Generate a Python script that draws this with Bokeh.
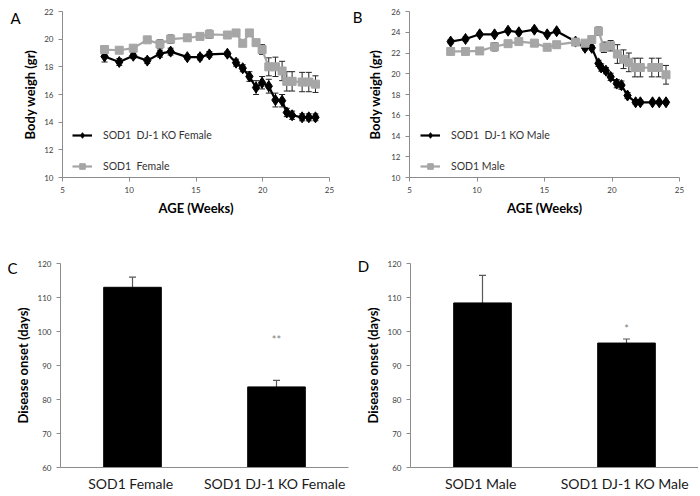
from bokeh.plotting import figure
from bokeh.layouts import column, row
from bokeh.models import (ColumnDataSource, Whisker, TeeHead, Legend, LegendItem,
                          Label, FixedTicker, Range1d, FactorRange)
from bokeh.core.properties import value
from bokeh.embed import file_html
from bokeh.resources import INLINE

# ---------------- data ----------------
# Panel A (female body weight, gr)
weeks_f = [8.15, 9.25, 10.3, 11.35, 12.3, 13.1, 14.35, 15.3, 16.0, 17.35, 18.0, 18.5,
           19.0, 19.5, 19.95, 20.45, 20.95, 21.45, 21.8, 22.2, 22.95, 23.45, 23.95]
ko_female = [18.75, 18.35, 18.8, 18.45, 18.95, 19.1, 18.7, 18.7, 18.9, 18.95, 18.3, 17.9,
             17.3, 16.5, 16.85, 16.6, 15.6, 15.55, 14.7, 14.5, 14.35, 14.35, 14.35]
ko_female_err = [0.4, 0.25, 0.2, 0.2, 0.25, 0.25, 0.15, 0.2, 0.2, 0.15, 0.25, 0.25,
                 0.35, 0.5, 0.45, 0.5, 0.5, 0.45, 0.3, 0.3, 0.25, 0.25, 0.25]
sod1_female = [19.25, 19.2, 19.35, 19.95, 19.65, 20.0, 20.1, 20.2, 20.35, 20.3, 20.45, 19.7,
               20.45, 19.75, 19.25, 18.0, 18.0, 17.7, 16.95, 16.95, 16.9, 16.9, 16.75]
sod1_female_err = [0.2, 0.2, 0.2, 0.15, 0.3, 0.3, 0.2, 0.2, 0.3, 0.2, 0.15, 0.15,
                   0.15, 0.2, 0.35, 0.65, 0.7, 0.7, 0.7, 0.7, 0.7, 0.7, 0.6]

# Panel B (male body weight, gr)
weeks_ko_m = [8.05, 9.15, 10.2, 11.3, 12.3, 13.1, 14.25, 15.2, 15.9, 17.3, 18.0, 18.5,
              19.0, 19.2, 19.55, 19.9, 20.35, 20.7, 21.15, 21.75, 22.1, 23.0, 23.5, 24.0]
ko_male = [23.1, 23.35, 23.8, 23.8, 24.15, 24.0, 24.25, 23.8, 24.1, 23.1, 22.5, 22.5,
           21.0, 20.6, 20.3, 19.7, 19.05, 18.9, 17.9, 17.25, 17.25, 17.25, 17.25, 17.25]
ko_male_err = [0.2, 0.2, 0.15, 0.15, 0.15, 0.15, 0.15, 0.15, 0.15, 0.2, 0.2, 0.2,
               0.3, 0.35, 0.3, 0.35, 0.4, 0.4, 0.3, 0.2, 0.2, 0.15, 0.15, 0.15]
weeks_sod1_m = [8.05, 9.15, 10.2, 11.3, 12.3, 13.1, 14.25, 15.2, 15.9, 17.3, 18.0, 18.5,
                19.0, 19.4, 19.9, 20.4, 20.85, 21.25, 21.7, 22.1, 22.95, 23.45, 24.0]
sod1_male = [22.15, 22.15, 22.2, 22.6, 22.9, 23.1, 22.95, 22.55, 22.8, 23.05, 22.95, 23.3,
             24.1, 22.55, 22.7, 21.9, 21.4, 21.1, 20.6, 20.6, 20.6, 20.6, 19.9]
sod1_male_err = [0.3, 0.3, 0.3, 0.4, 0.25, 0.2, 0.25, 0.3, 0.3, 0.2, 0.2, 0.3,
                 0.4, 0.5, 0.5, 0.9, 0.9, 0.9, 0.9, 0.9, 0.9, 0.9, 0.9]

# Panel C / D (disease onset, days)
groups_f = ["SOD1  Female", "SOD1  DJ-1 KO Female"]
onset_f = [113.0, 83.7]
onset_f_err = [3.0, 1.9]
sig_f = ["", "**"]

groups_m = ["SOD1  Male", "SOD1  DJ-1 KO Male"]
onset_m = [108.4, 96.6]
onset_m_err = [8.1, 1.2]
sig_m = ["", "*"]

FONT = "Lato"
BLACK = "#000000"
GREY = "#a6a6a6"
AXIS = "#8c8c8c"


def style_axes(p):
    for ax in p.axis:
        ax.axis_line_color = AXIS
        ax.major_tick_line_color = AXIS
        ax.major_tick_out = 4
        ax.major_tick_in = 0
        ax.minor_tick_line_color = None
        ax.major_label_text_font = FONT
        ax.major_label_text_font_size = "8px"
        ax.major_label_text_color = "#404040"
        ax.major_label_standoff = 5
        ax.axis_label_text_font = FONT
        ax.axis_label_text_font_style = "bold"
        ax.axis_label_text_font_size = "13px"
        ax.axis_label_text_color = "#000000"
    p.grid.visible = False
    p.outline_line_color = None


def add_letter(p, letter, x, y):
    # panel letter placed in the left side panel (not clipped by the frame)
    p.add_layout(Label(x=x, y=y, x_units="canvas", y_units="canvas", text=letter,
                       text_font=FONT, text_font_size="15px", text_color="#000000",
                       text_align="center", text_baseline="alphabetic"), "left")


def add_series(p, xs, ys, errs, color, marker, size):
    src = ColumnDataSource(dict(x=xs, y=ys,
                                lo=[v - e for v, e in zip(ys, errs)],
                                hi=[v + e for v, e in zip(ys, errs)]))
    ln = p.line("x", "y", source=src, line_color=color, line_width=2.2)
    sc = p.scatter("x", "y", source=src, marker=marker, size=size,
                   fill_color=color, line_color=color)
    p.add_layout(Whisker(source=src, base="x", upper="hi", lower="lo",
                         line_color="#222222", line_width=1,
                         upper_head=TeeHead(size=6, line_color="#222222", line_width=1),
                         lower_head=TeeHead(size=6, line_color="#222222", line_width=1)))
    return [ln, sc]


def line_panel(letter, y0, y1, ystep, ser_ko, ser_sod, labels, size, borders,
               lab_standoff, legend_loc, letter_xy):
    left, right, top, bottom = borders
    p = figure(width=size[0], height=size[1], x_range=Range1d(5, 25),
               y_range=Range1d(y0, y1),
               output_backend="svg", toolbar_location=None,
               min_border_left=left, min_border_right=right,
               min_border_top=top, min_border_bottom=bottom)
    p.xaxis.ticker = FixedTicker(ticks=list(range(5, 26, 5)))
    p.yaxis.ticker = FixedTicker(ticks=list(range(y0, y1 + 1, ystep)))
    p.xaxis.axis_label = "AGE (Weeks)"
    p.yaxis.axis_label = "Body weigh (gr)"
    style_axes(p)
    p.yaxis.axis_label_standoff = lab_standoff
    p.xaxis.axis_label_standoff = 4
    r_ko = add_series(p, *ser_ko, BLACK, "diamond", 11)
    r_sod = add_series(p, *ser_sod, GREY, "square", 8)
    leg = Legend(items=[LegendItem(label=labels[0], renderers=r_ko),
                        LegendItem(label=labels[1], renderers=r_sod)],
                 location=legend_loc, orientation="vertical",
                 border_line_color=None, background_fill_alpha=0,
                 padding=0, margin=0, spacing=17, glyph_width=20, glyph_height=14,
                 label_height=14, label_standoff=11, label_text_font=FONT,
                 label_text_font_size="10.5px", label_text_color="#333333")
    p.add_layout(leg)
    add_letter(p, letter, *letter_xy)
    return p


def bar_panel(letter, cats, vals, errs, sigs, sig_offset, size, borders, letter_xy):
    left, right, top, bottom = borders
    p = figure(width=size[0], height=size[1], x_range=FactorRange(factors=cats),
               y_range=Range1d(60, 120), output_backend="svg", toolbar_location=None,
               min_border_left=left, min_border_right=right,
               min_border_top=top, min_border_bottom=bottom)
    src = ColumnDataSource(dict(cat=cats, val=vals,
                                hi=[v + e for v, e in zip(vals, errs)],
                                sig=sigs,
                                sig_y=[v + e + sig_offset for v, e in zip(vals, errs)]))
    p.vbar(x="cat", top="val", bottom=60, width=0.4, source=src,
           fill_color=BLACK, line_color=BLACK)
    p.add_layout(Whisker(source=src, base="cat", upper="hi", lower="val",
                         line_color="#595959", line_width=1.2,
                         upper_head=TeeHead(size=7, line_color="#595959", line_width=1.2),
                         lower_head=None))
    p.text(x="cat", y="sig_y", text="sig", source=src, text_font=value(FONT),
           text_font_size="11px", text_color="#808080", text_align="center",
           text_baseline="middle")
    p.yaxis.ticker = FixedTicker(ticks=list(range(60, 121, 10)))
    p.yaxis.axis_label = "Disease onset (days)"
    style_axes(p)
    p.yaxis.axis_label_standoff = 4
    p.xaxis.major_tick_line_color = None
    p.xaxis.major_tick_out = 0
    p.xaxis.major_label_standoff = 7
    p.xaxis.major_label_text_font_size = "14px"
    p.xaxis.major_label_text_color = "#1a1a1a"
    add_letter(p, letter, *letter_xy)
    return p


pA = line_panel("A", 10, 22, 2,
                (weeks_f, ko_female, ko_female_err), (weeks_f, sod1_female, sod1_female_err),
                ["SOD1  DJ-1 KO Female", "SOD1  Female"],
                (350, 248), (62, 21, 11, 70), 3, (10, 4), (15, 17))
pB = line_panel("B", 10, 26, 2,
                (weeks_ko_m, ko_male, ko_male_err), (weeks_sod1_m, sod1_male, sod1_male_err),
                ["SOD1  DJ-1 KO Male", "SOD1 Male"],
                (348, 248), (59, 19, 11, 71), 5, (11, 4), (7, 16))
pC = bar_panel("C", groups_f, onset_f, onset_f_err, sig_f, 12,
               (350, 246), (60, 2, 13, 24), (12, 19))
pD = bar_panel("D", groups_m, onset_m, onset_m_err, sig_m, 3,
               (348, 246), (60, 0, 15, 23), (13, 17))

layout = column(row(pA, pB), row(pC, pD))
open("out.html", "w").write(file_html(layout, INLINE))
